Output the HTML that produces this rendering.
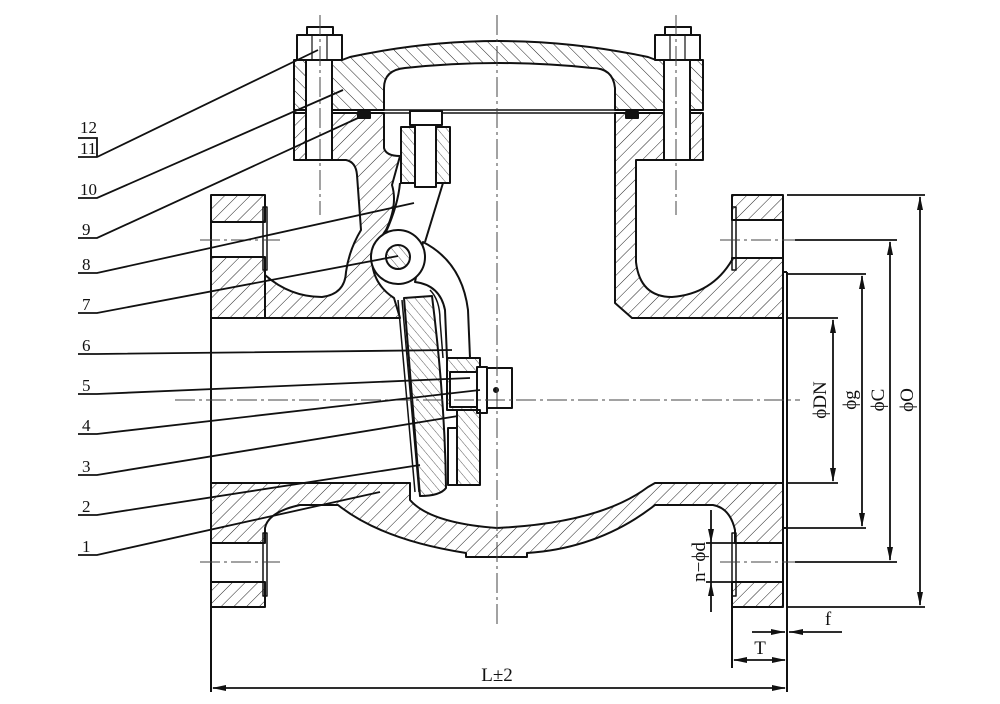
<!DOCTYPE html>
<html><head><meta charset="utf-8"><style>
html,body{margin:0;padding:0;background:#fff;}
svg{display:block;}
text{font-family:"Liberation Serif",serif;fill:#111;}
</style></head><body>
<svg width="1000" height="704" viewBox="0 0 1000 704" xmlns="http://www.w3.org/2000/svg">
<defs>
<pattern id="hb" patternUnits="userSpaceOnUse" width="9" height="9" patternTransform="rotate(45)">
<line x1="0" y1="0" x2="0" y2="9" stroke="#222" stroke-width="1"/></pattern>
<pattern id="hf" patternUnits="userSpaceOnUse" width="9" height="9" patternTransform="rotate(-45)">
<line x1="0" y1="0" x2="0" y2="9" stroke="#222" stroke-width="1"/></pattern>
<pattern id="hs" patternUnits="userSpaceOnUse" width="7" height="7" patternTransform="rotate(-40)">
<line x1="0" y1="0" x2="0" y2="7" stroke="#333" stroke-width="0.8"/></pattern>
</defs>
<g stroke="#111" stroke-width="2" fill="none" stroke-linejoin="round">

<!-- Cover -->
<path fill="url(#hf)" d="M294,60 L342,60 L350,57 Q498,25 648,57 L656,60 L703,60 L703,110 L615,110 L615,88 Q613,68 592,68 Q498,58 405,68 Q384,70 384,88 L384,110 L294,110 Z"/>
<!-- body flange left + neck -->
<path fill="url(#hb)" d="M294,113 L384,113 L384,148 Q386,156 400,156 L392,185 Q398,205 386,230 Q372,250 372,262 Q374,285 394,298 L400,318 L265,318 L265,275 Q290,297 322,297 Q345,294 346,272 Q349,250 361,230 L357,175 Q356,162 346,160 L294,160 Z"/>
<!-- right body upper -->
<path fill="url(#hb)" d="M615,113 L703,113 L703,160 L636,160 L636,262 Q640,297 672,297 Q712,294 732,260 L732,258 L783,258 L783,318 L632,318 L615,303 Z"/>
<!-- flanges top -->
<rect x="211" y="195" width="54" height="27" fill="url(#hb)"/>
<rect x="211" y="257" width="54" height="61" fill="url(#hb)"/>
<rect x="732" y="195" width="51" height="25" fill="url(#hb)"/>
<!-- lower body -->
<path fill="url(#hb)" d="M211,483 L410,483 L410,500 Q430,523 497,528 Q600,523 648,487 L655,483 L783,483 L783,543 L735,543 L735,530 Q730,508 713,505 L655,505 Q600,548 527,553 L527,557 L466,557 L466,553 Q382,540 338,505 L300,505 Q268,512 265,528 L265,543 L211,543 Z"/>
<rect x="211" y="582" width="54" height="25" fill="url(#hb)"/>
<rect x="732" y="582" width="51" height="25" fill="url(#hb)"/>
<!-- flange faces -->
<line x1="211" y1="195" x2="211" y2="607"/>
<line x1="783" y1="195" x2="783" y2="607"/>
<line x1="787" y1="272" x2="787" y2="630"/>
<line x1="783" y1="272" x2="787" y2="272"/>
<line x1="783" y1="528" x2="787" y2="528"/>
<line x1="732" y1="607" x2="732" y2="668"/>
<line x1="787" y1="607" x2="787" y2="692"/>
<line x1="211" y1="607" x2="211" y2="692"/>
<rect x="732" y="207" width="4" height="63" stroke-width="1.5"/>
<rect x="732" y="533" width="4" height="63" stroke-width="1.5"/>
<rect x="263" y="207" width="4" height="63" stroke-width="1.5"/>
<rect x="263" y="533" width="4" height="63" stroke-width="1.5"/>
<!-- bores -->
<line x1="211" y1="318" x2="400" y2="318"/>
<line x1="632" y1="318" x2="783" y2="318"/>

<!-- bolts -->
<rect x="306" y="60" width="26" height="100" fill="#fff"/>
<rect x="297" y="35" width="45" height="25" fill="#fff"/>
<line x1="312" y1="35" x2="312" y2="60" stroke-width="1.2"/><line x1="327" y1="35" x2="327" y2="60" stroke-width="1.2"/>
<rect x="307" y="27" width="26" height="8" fill="#fff"/>
<rect x="664" y="60" width="26" height="100" fill="#fff"/>
<rect x="655" y="35" width="45" height="25" fill="#fff"/>
<line x1="670" y1="35" x2="670" y2="60" stroke-width="1.2"/><line x1="685" y1="35" x2="685" y2="60" stroke-width="1.2"/>
<rect x="665" y="27" width="26" height="8" fill="#fff"/>
<!-- gasket -->
<line x1="360" y1="110" x2="640" y2="110" stroke-width="1.5"/>
<line x1="360" y1="113" x2="640" y2="113" stroke-width="1.5"/>
<rect x="358" y="112" width="12" height="6" fill="#111"/>
<rect x="626" y="112" width="12" height="6" fill="#111"/>

<!-- stud block -->
<rect x="401" y="127" width="49" height="56" fill="url(#hs)"/>
<rect x="415" y="125" width="21" height="62" fill="#fff"/>
<rect x="410" y="111" width="32" height="14" fill="#fff"/>
<!-- bracket -->
<path d="M400,183 Q398,205 386,232"/>
<path d="M443,183 L425,242"/>
<!-- arm -->
<path fill="#fff" d="M423,242 Q462,262 468,310 L470,358 L447,358 L445,310 Q440,285 415,282 Z"/>
<path d="M430,290 Q440,300 440,320 L443,358" stroke-width="1.5"/>
<circle cx="398" cy="257" r="27" fill="#fff"/>
<circle cx="398" cy="257" r="12" fill="url(#hs)"/>
<!-- disc -->
<path fill="url(#hs)" d="M404,298 L432,296 Q445,400 446,488 Q440,496 420,496 Z"/>
<line x1="398" y1="300" x2="415" y2="492" stroke-width="1.5"/>
<line x1="402" y1="300" x2="419" y2="492" stroke-width="1.5"/>
<!-- nut region -->
<rect x="447" y="358" width="33" height="52" fill="url(#hs)"/>
<rect x="450" y="372" width="27" height="35" fill="#fff"/>
<rect x="477" y="367" width="10" height="46" fill="#fff"/>
<rect x="487" y="368" width="25" height="40" fill="#fff"/>
<circle cx="496" cy="390" r="2" fill="#111"/>
<rect x="457" y="410" width="23" height="75" fill="url(#hs)"/>
<rect x="448" y="428" width="9" height="57" fill="#fff"/>
</g>

<!-- centerlines -->
<g stroke="#444" stroke-width="1" stroke-dasharray="20,4,3,4" fill="none">
<line x1="497" y1="15" x2="497" y2="625"/>
<line x1="175" y1="400" x2="800" y2="400"/>
<line x1="200" y1="240" x2="280" y2="240"/>
<line x1="720" y1="240" x2="795" y2="240"/>
<line x1="200" y1="562" x2="280" y2="562"/>
<line x1="720" y1="562" x2="795" y2="562"/>
<line x1="320" y1="15" x2="320" y2="215"/>
<line x1="676" y1="15" x2="676" y2="215"/>
</g>

<!-- dimensions -->
<g stroke="#111" stroke-width="1.8" fill="#111">
<line x1="787" y1="195" x2="925" y2="195"/><line x1="787" y1="607" x2="925" y2="607"/>
<line x1="795" y1="240" x2="897" y2="240"/><line x1="795" y1="562" x2="897" y2="562"/>
<line x1="787" y1="274" x2="866" y2="274"/><line x1="787" y1="528" x2="866" y2="528"/>
<line x1="787" y1="318" x2="838" y2="318"/><line x1="787" y1="483" x2="838" y2="483"/>
<line x1="920" y1="197" x2="920" y2="605"/>
<line x1="890" y1="242" x2="890" y2="560"/>
<line x1="862" y1="276" x2="862" y2="526"/>
<line x1="833" y1="320" x2="833" y2="481"/>
<path d="M920,196 l-3,14 h6z M920,606 l-3,-14 h6z M890,241 l-3,14 h6z M890,561 l-3,-14 h6z M862,275 l-3,14 h6z M862,527 l-3,-14 h6z M833,319 l-3,14 h6z M833,482 l-3,-14 h6z" stroke="none"/>
<line x1="213" y1="688" x2="785" y2="688"/>
<path d="M212,688 l14,-3 v6z M786,688 l-14,-3 v6z" stroke="none"/>
<line x1="734" y1="660" x2="785" y2="660"/>
<path d="M733,660 l14,-3 v6z M786,660 l-14,-3 v6z" stroke="none"/>
<line x1="752" y1="632" x2="785" y2="632"/><line x1="789" y1="632" x2="842" y2="632"/>
<path d="M785,632 l-14,-3 v6z M789,632 l14,-3 v6z" stroke="none"/>
<line x1="711" y1="510" x2="711" y2="612"/>
<line x1="706" y1="543" x2="735" y2="543"/><line x1="706" y1="582" x2="735" y2="582"/>
<path d="M711,543 l-3,-14 h6z M711,582 l-3,14 h6z" stroke="none"/>
</g>
<g font-size="19">
<text x="826" y="400" transform="rotate(-90 826 400)" text-anchor="middle">ϕDN</text>
<text x="856" y="400" transform="rotate(-90 856 400)" text-anchor="middle">ϕg</text>
<text x="884" y="400" transform="rotate(-90 884 400)" text-anchor="middle">ϕC</text>
<text x="913" y="400" transform="rotate(-90 913 400)" text-anchor="middle">ϕO</text>
<text x="705" y="562" transform="rotate(-90 705 562)" text-anchor="middle">n−ϕd</text>
<text x="497" y="681" text-anchor="middle">L±2</text>
<text x="760" y="654" text-anchor="middle">T</text>
<text x="828" y="625" text-anchor="middle">f</text>
</g>

<!-- labels -->
<g stroke="#111" stroke-width="1.8" fill="none">
<polyline points="78,138 97,138 97,157"/>
<polyline points="78,157 97,157 318,50"/>
<polyline points="78,198 97,198 343,90"/>
<polyline points="78,238 97,238 358,118"/>
<polyline points="78,273 97,273 414,203"/>
<polyline points="78,313 97,313 398,256"/>
<polyline points="78,354 97,354 452,350"/>
<polyline points="78,394 97,394 470,378"/>
<polyline points="78,434 97,434 480,390"/>
<polyline points="78,475 97,475 458,416"/>
<polyline points="78,515 97,515 420,465"/>
<polyline points="78,555 97,555 380,492"/>
</g>
<g font-size="17">
<text x="80" y="133">12</text><text x="80" y="154">11</text>
<text x="80" y="195">10</text><text x="82" y="235">9</text><text x="82" y="270">8</text>
<text x="82" y="310">7</text><text x="82" y="351">6</text><text x="82" y="391">5</text>
<text x="82" y="431">4</text><text x="82" y="472">3</text><text x="82" y="512">2</text>
<text x="82" y="552">1</text>
</g>
</svg>
</body></html>
